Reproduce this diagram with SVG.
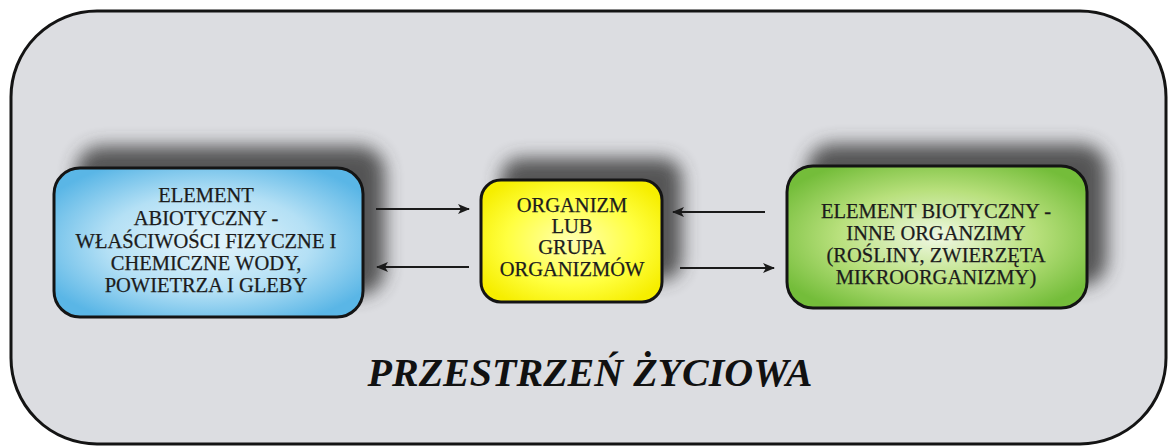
<svg xmlns="http://www.w3.org/2000/svg" width="1169" height="446" viewBox="0 0 1169 446">
<defs>
<style>
.lbl{font-family:"Liberation Serif","Times New Roman",serif;font-size:20.5px;fill:#1c1c1c;stroke:#1c1c1c;stroke-width:0.25;text-anchor:middle}
.title{font-family:"Liberation Serif","Times New Roman",serif;font-size:40px;font-weight:bold;font-style:italic;fill:#111;text-anchor:middle}
.box{stroke:#141414;stroke-width:3}
.shadow{fill:#3c3c3c;opacity:0.85}
.arrow{stroke:#1a1a1a;stroke-width:2;fill:none;marker-end:url(#ah)}
</style>
<filter id="blur" x="-20%" y="-30%" width="140%" height="160%">
<feGaussianBlur stdDeviation="9"/>
</filter>
<marker id="ah" viewBox="0 0 12 10" refX="11" refY="5" markerWidth="12" markerHeight="10" markerUnits="userSpaceOnUse" orient="auto">
<path d="M0,0 L12,5 L0,10 L3,5 Z" fill="#1a1a1a"/>
</marker>
<radialGradient id="gBlue" cx="50%" cy="50%" r="60%">
<stop offset="0" stop-color="#e6f6fc"/>
<stop offset="0.55" stop-color="#b4e0f5"/>
<stop offset="1" stop-color="#5ab6e6"/>
</radialGradient>
<radialGradient id="gYellow" cx="50%" cy="50%" r="60%">
<stop offset="0" stop-color="#ffffb0"/>
<stop offset="0.6" stop-color="#ffff40"/>
<stop offset="1" stop-color="#f6ee00"/>
</radialGradient>
<radialGradient id="gGreen" cx="50%" cy="50%" r="60%">
<stop offset="0" stop-color="#f0f8e4"/>
<stop offset="0.55" stop-color="#b8e07c"/>
<stop offset="1" stop-color="#74bd3a"/>
</radialGradient>
</defs>
<rect x="0" y="0" width="1169" height="446" fill="#ffffff"/>
<g id="space">
<rect x="11" y="11" width="1155" height="433" rx="86" ry="86" fill="#dcdde1" stroke="#141414" stroke-width="3"/>
<text class="title" x="590" y="386">PRZESTRZEŃ ŻYCIOWA</text>
</g>
<g id="abiotic">
<rect class="shadow" x="76" y="146" width="309" height="149" rx="26" filter="url(#blur)"/>
<rect class="box" x="54" y="168" width="309" height="149" rx="26" fill="url(#gBlue)"/>
<text class="lbl" x="206" y="202">ELEMENT</text>
<text class="lbl" x="206" y="225">ABIOTYCZNY -</text>
<text class="lbl" x="206" y="248">WŁAŚCIWOŚCI FIZYCZNE I</text>
<text class="lbl" x="206" y="270">CHEMICZNE WODY,</text>
<text class="lbl" x="206" y="292">POWIETRZA I GLEBY</text>
</g>
<g id="organism">
<rect class="shadow" x="501" y="158" width="181" height="122" rx="20" filter="url(#blur)"/>
<rect class="box" x="481" y="180" width="181" height="122" rx="20" fill="url(#gYellow)"/>
<text class="lbl" x="572" y="212">ORGANIZM</text>
<text class="lbl" x="572" y="233">LUB</text>
<text class="lbl" x="572" y="254">GRUPA</text>
<text class="lbl" x="572" y="276">ORGANIZMÓW</text>
</g>
<g id="biotic">
<rect class="shadow" x="807" y="144" width="300" height="142" rx="26" filter="url(#blur)"/>
<rect class="box" x="787" y="166" width="300" height="142" rx="26" fill="url(#gGreen)"/>
<text class="lbl" x="936" y="218">ELEMENT BIOTYCZNY -</text>
<text class="lbl" x="936" y="240">INNE ORGANZIMY</text>
<text class="lbl" x="936" y="262">(ROŚLINY, ZWIERZĘTA</text>
<text class="lbl" x="936" y="284">MIKROORGANIZMY)</text>
</g>
<g id="connectors">
<line class="arrow" x1="376" y1="209" x2="469" y2="209"/>
<line class="arrow" x1="469" y1="267" x2="377" y2="267"/>
<line class="arrow" x1="765" y1="212" x2="673" y2="212"/>
<line class="arrow" x1="680" y1="268" x2="774" y2="268"/>
</g>
</svg>
